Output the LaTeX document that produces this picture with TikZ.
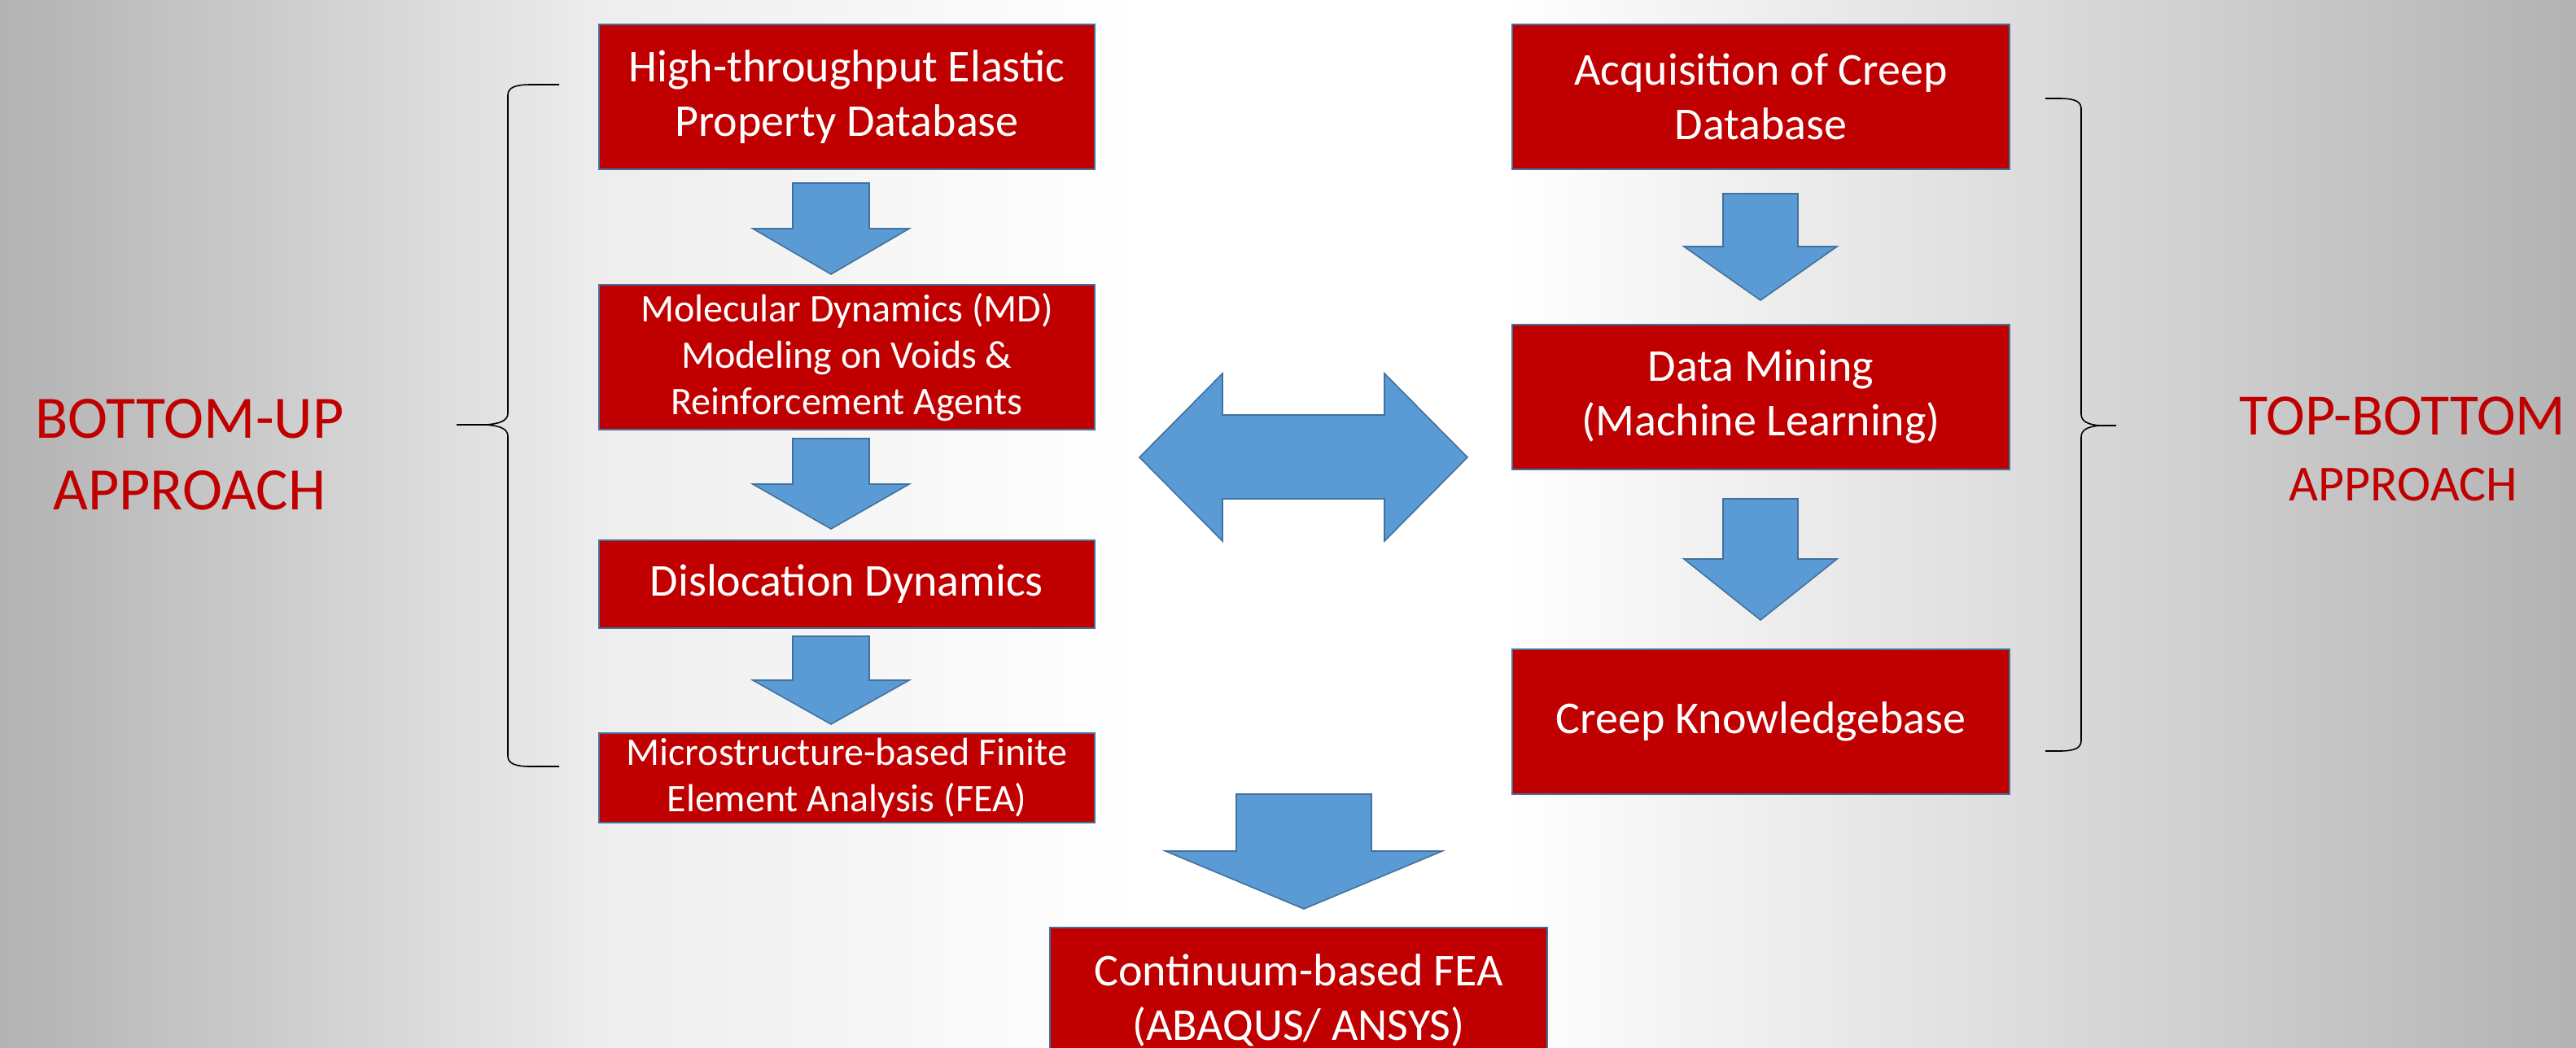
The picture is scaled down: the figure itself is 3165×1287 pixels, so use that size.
\documentclass[tikz,border=0pt]{standalone}
\usepackage{fontspec}
\setmainfont{Carlito}
\definecolor{boxred}{HTML}{C00000}
\definecolor{boxline}{HTML}{41719C}
\definecolor{arrowfill}{HTML}{5B9BD5}
\definecolor{arrowline}{HTML}{41719C}
\definecolor{labelred}{HTML}{C00000}
\newcommand\bigtxt{\fontsize{28}{33.5}\selectfont}
\newcommand\smalltxt{\fontsize{24}{28.5}\selectfont}
\newcommand\blockdown[6]{%
  \draw[blockarrow] ({#1-#5},#2) -- ({#1+#5},#2) -- ({#1+#5},#3) -- ({#1+#6},#3)
    -- (#1,#4) -- ({#1-#6},#3) -- ({#1-#5},#3) -- cycle;}
\tikzset{
  box/.style={draw=boxline, fill=boxred, text=white, line width=1pt, align=center, inner sep=0pt},
  blockarrow/.style={draw=arrowline, fill=arrowfill, line width=0.8pt, line join=miter},
  bracestyle/.style={draw=black, line width=0.8pt},
  label/.style={text=labelred, anchor=base, inner sep=0pt}
}
\begin{document}
\begin{tikzpicture}[x=0.5pt,y=-0.5pt]
\useasboundingbox (0,0) rectangle (3165,1287);
\clip (0,0) rectangle (3165,1287);
% background
\shade[left color=white!70!black, right color=white!82!black] (0,0) rectangle (400,1287);
\shade[left color=white!82!black, right color=white!93!black] (399,0) rectangle (737,1287);
\shade[left color=white!93!black, right color=white] (736,0) rectangle (1400,1287);
\fill[white] (1399,0) rectangle (1850,1287);
\shade[left color=white, right color=white!88!black] (1849,0) rectangle (2420,1287);
\shade[left color=white!88!black, right color=white!79!black] (2419,0) rectangle (2800,1287);
\shade[left color=white!79!black, right color=white!70!black] (2799,0) rectangle (3165,1287);

% left column
\node[box, minimum width=304.5pt, minimum height=89pt, font=\bigtxt] (b1) at (1040.5,119) {High-throughput Elastic\\Property Database};
\node[box, minimum width=304.5pt, minimum height=89pt, font=\smalltxt] (b2) at (1040.5,439) {Molecular Dynamics (MD)\\Modeling on Voids \&\\Reinforcement Agents};
\node[box, minimum width=304.5pt, minimum height=54pt, font=\bigtxt] (b3) at (1040.5,718) {Dislocation Dynamics};
\node[box, minimum width=304.5pt, minimum height=55pt, font=\smalltxt] (b4) at (1040.5,956) {Microstructure-based Finite\\Element Analysis (FEA)};

% right column
\node[box, minimum width=305.5pt, minimum height=89pt, font=\bigtxt] (r1) at (2163.5,119) {Acquisition of Creep\\Database};
\node[box, minimum width=305.5pt, minimum height=89pt, font=\bigtxt] (r2) at (2163.5,488) {Data Mining\\(Machine Learning)};
\node[box, minimum width=305.5pt, minimum height=89pt, font=\bigtxt] (r3) at (2163.5,887) {Creep Knowledgebase};

% bottom
\node[box, minimum width=305.5pt, minimum height=89pt, font=\bigtxt] (c1) at (1595.5,1229) {Continuum-based FEA\\(ABAQUS/ ANSYS)};

% block arrows
\blockdown{1021}{225}{281}{337}{47}{96}
\blockdown{1021}{539}{595}{650}{47}{96}
\blockdown{1021}{782}{836}{890}{47}{96}
\blockdown{2163}{238}{303}{369}{46}{94}
\blockdown{2163}{613}{687}{762}{46}{94}
\blockdown{1602}{976}{1046}{1117}{83}{170}
\draw[blockarrow] (1400,562) -- (1502,459) -- (1502,510) -- (1701,510) -- (1701,459)
  -- (1803,562) -- (1701,665) -- (1701,613) -- (1502,613) -- (1502,665) -- cycle;

% braces
\draw[bracestyle] (687,104) -- (652,104) .. controls (632,104) and (624,108) .. (624,117)
  -- (624,508) .. controls (624,517) and (614,521) .. (596,522) -- (561,522)
  (596,522) .. controls (614,523) and (624,527) .. (624,536)
  -- (624,929) .. controls (624,938) and (632,942) .. (652,942) -- (687,942);
\draw[bracestyle] (2513,121) -- (2530,121) .. controls (2550,121) and (2557,125) .. (2557,134)
  -- (2557,509) .. controls (2557,518) and (2566,522) .. (2580,523) -- (2600,523)
  (2580,523) .. controls (2566,524) and (2557,528) .. (2557,537)
  -- (2557,910) .. controls (2557,919) and (2550,923) .. (2530,923) -- (2513,923);

% side labels
\node[label, font=\fontsize{37}{40}\selectfont] (bu1) at (233,538) {BOTTOM-UP};
\node[label, font=\fontsize{37}{40}\selectfont] (bu2) at (233,626) {APPROACH};
\node[label, font=\fontsize{36}{40}\selectfont] (tb1) at (2952,534) {TOP-BOTTOM};
\node[label, font=\fontsize{31}{36}\selectfont] (tb2) at (2953,615) {APPROACH};
\end{tikzpicture}
\end{document}
